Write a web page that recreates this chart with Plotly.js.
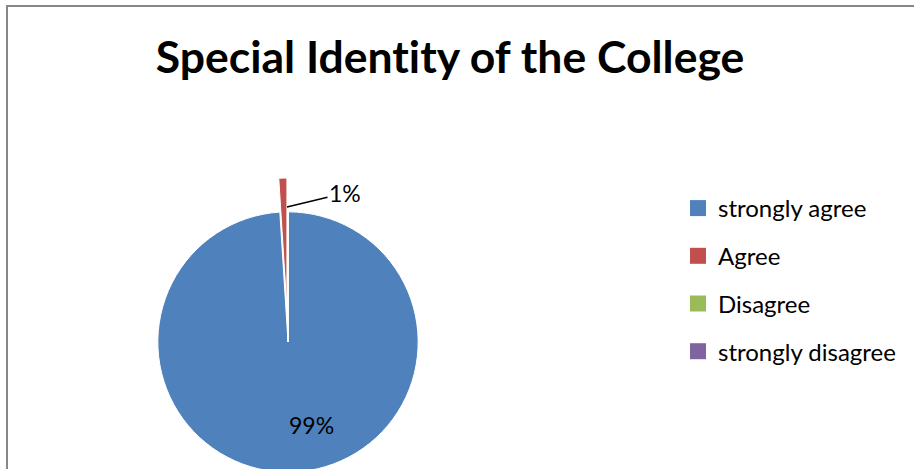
<!DOCTYPE html>
<html>
<head>
<meta charset="utf-8">
<script src="https://cdn.plot.ly/plotly-3.0.1.min.js"></script>
<style>
  html, body { margin: 0; padding: 0; overflow: hidden; background: #fff; }
  #chart { position: absolute; left: 0; top: 0; width: 914px; height: 520px; }
  #chart text { font-variant-ligatures: none; font-feature-settings: "liga" 0; }
  #frame { position: absolute; left: 6px; top: 5px; width: 1000px; height: 700px;
           border-left: 2px solid #878787; border-top: 2px solid #878787;
           pointer-events: none; }
</style>
</head>
<body>
<div id="chart"></div>
<div id="frame"></div>
<script>
const titleText = "Special Identity of the College";
const categories = ["strongly agree", "Agree", "Disagree", "strongly disagree"];
const values = [99, 1, 0, 0];
const colors = ["#4F81BD", "#C0504D", "#9BBB59", "#8064A2"];
const pulls = [0, 0.26, 0, 0];

const FONT = "Lato, 'Open Sans', sans-serif";
const total = values.reduce((a, b) => a + b, 0);
const pct = values.map(v => Math.round(v / total * 100) + "%");

const pie = {
  type: "pie",
  labels: categories,
  values: values,
  sort: false,
  direction: "clockwise",
  rotation: 0,
  pull: pulls,
  marker: { colors: colors, line: { color: "#ffffff", width: 1 } },
  textinfo: "none",
  showlegend: false,
  hoverinfo: "label+percent",
  domain: { x: [124 / 914, 452 / 914], y: [(520 - 506) / 520, (520 - 178) / 520] }
};

const legendTraces = categories.map((c, i) => ({
  type: "scatter",
  mode: "markers",
  x: [null], y: [null],
  name: c,
  legendgroup: "g" + i,
  marker: { symbol: "square", size: 16, color: colors[i] },
  showlegend: true,
  hoverinfo: "skip"
}));

const layout = {
  width: 914,
  height: 520,
  margin: { l: 0, r: 0, t: 0, b: 0 },
  paper_bgcolor: "#ffffff",
  plot_bgcolor: "#ffffff",
  title: {
    text: titleText,
    font: { family: FONT, size: 44.5, color: "#000", weight: "bold" },
    x: 450 / 914, xanchor: "center", xref: "container",
    y: 1 - 57 / 520, yanchor: "middle", yref: "container"
  },
  xaxis: { visible: false, range: [0, 1] },
  yaxis: { visible: false, range: [0, 1] },
  showlegend: true,
  legend: {
    x: 678 / 914, xanchor: "left",
    y: 1 - 186 / 520, yanchor: "top",
    font: { family: FONT, size: 24, color: "#000" },
    tracegroupgap: 13.5,
    itemsizing: "trace",
    itemclick: false, itemdoubleclick: false,
    bgcolor: "rgba(0,0,0,0)"
  },
  annotations: [
    {
      text: pct[1],
      xref: "paper", yref: "paper",
      x: 287 / 914, y: 1 - 207 / 520,
      ax: 58, ay: -14,
      showarrow: true, arrowhead: 0, arrowwidth: 1.5, arrowcolor: "#000",
      font: { family: FONT, size: 23, color: "#000" }
    },
    {
      text: pct[0],
      xref: "paper", yref: "paper",
      x: 311 / 914, y: 1 - 425 / 520,
      xanchor: "center", yanchor: "middle",
      showarrow: false,
      font: { family: FONT, size: 23, color: "#000" }
    }
  ]
};

Plotly.newPlot("chart", [pie].concat(legendTraces), layout, { displayModeBar: false, staticPlot: true });
</script>
</body>
</html>
